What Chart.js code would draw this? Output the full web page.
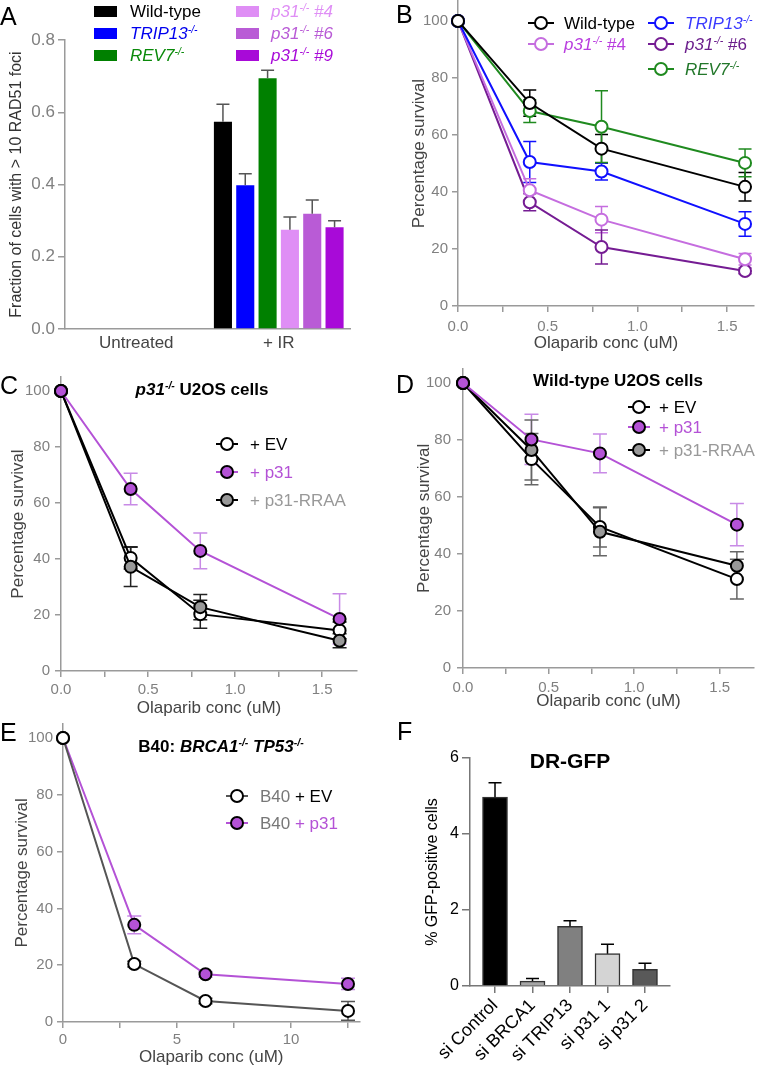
<!DOCTYPE html>
<html>
<head>
<meta charset="utf-8">
<script src="https://cdn.jsdelivr.net/npm/chart.js@4.4.1/dist/chart.umd.min.js"></script>
<style>
  body { margin: 0; width: 762px; height: 1069px; position: relative; overflow: hidden; background: #fff;
         font-family: 'Liberation Sans', Arial, sans-serif; }
  canvas { position: absolute; }
  .t { position: absolute; white-space: nowrap; line-height: 1; }
  .t sup { font-size: 0.62em; line-height: 0; vertical-align: 0.55em; }
</style>
</head>
<body>
<script>
// ---------- Panel A: RAD51 foci ----------
const aGroups = ['Untreated', '+ IR'];
const aWildType = [null, 0.574];
const aTrip13 = [null, 0.398];
const aRev7 = [null, 0.694];
const aP31n4 = [null, 0.275];
const aP31n6 = [null, 0.319];
const aP31n9 = [null, 0.282];
const aWildTypeErr = [0, 0.048];
const aTrip13Err = [0, 0.032];
const aRev7Err = [0, 0.022];
const aP31n4Err = [0, 0.035];
const aP31n6Err = [0, 0.038];
const aP31n9Err = [0, 0.018];
const aTicks = [0, 0.2, 0.4, 0.6, 0.8];

// ---------- Panel B: survival, knockouts ----------
const bConc = [0, 0.4, 0.8, 1.6];
const bWildType = [100, 71.2, 55.2, 41.8];
const bTrip13 = [100, 50.5, 47.2, 28.8];
const bP31n4 = [100, 40.6, 30.3, 16.4];
const bP31n6 = [100, 36.4, 20.7, 12.3];
const bRev7 = [100, 68.4, 62.9, 50.2];
const bWildTypeErr = [0, 4.6, 5, 5];
const bTrip13Err = [0, 7.2, 3, 4.3];
const bP31n4Err = [0, 4, 4.6, 2];
const bP31n6Err = [0, 3, 6, 1];
const bRev7Err = [0, 4, 12.6, 4.9];

// ---------- Panel C: p31-/- U2OS ----------
const cConc = [0, 0.4, 0.8, 1.6];
const cEV = [100, 40.4, 20.3, 14.5];
const cP31 = [100, 65, 42.9, 18.6];
const cRRAA = [100, 37.2, 22.8, 10.8];
const cEVErr = [0, 4, 5, 3];
const cP31Err = [0, 5.6, 6.4, 9];
const cRRAAErr = [0, 7, 4.5, 2.5];

// ---------- Panel D: wild-type U2OS ----------
const dConc = [0, 0.4, 0.8, 1.6];
const dEV = [100, 73.3, 49.5, 31.2];
const dP31 = [100, 80.2, 75.3, 50.3];
const dRRAA = [100, 76.5, 47.8, 35.9];
const dEVErr = [0, 9, 7, 7];
const dP31Err = [0, 8.8, 6.8, 7.4];
const dRRAAErr = [0, 10.5, 8.4, 4.9];

// ---------- Panel E: B40 ----------
const eConc = [0, 3.125, 6.25, 12.5];
const eEV = [100, 20.4, 7.4, 3.9];
const eP31 = [100, 34.2, 16.8, 13.4];
const eEVErr = [0, 1, 1, 3.3];
const eP31Err = [0, 3.1, 1, 2];

// ---------- Panel F: DR-GFP ----------
const fNames = ['si Control', 'si BRCA1', 'si TRIP13', 'si p31 1', 'si p31 2'];
const fMeans = [4.97, 0.13, 1.57, 0.85, 0.44];
const fErr = [0.38, 0.07, 0.15, 0.25, 0.16];
const fColors = ['#000000', '#a6a6a6', '#808080', '#d4d4d4', '#595959'];

const survTicks = [0, 20, 40, 60, 80, 100];
const olapTicks = [0, 0.25, 0.5, 0.75, 1, 1.25, 1.5];

const AXIS = '#9a9a9a';
const TICK = '#808080';
const TITLE = '#444444';
const PURPLE = '#b452d6';

Chart.defaults.font.family = "'Liberation Sans', Arial, sans-serif";
Chart.defaults.animation = false;
Chart.defaults.plugins.legend.display = false;
Chart.defaults.plugins.tooltip.enabled = false;

// error bars drawn from the dataset's errors array
function drawErrors(chart, opts) {
  const ctx = chart.ctx;
  chart.data.datasets.forEach((ds, i) => {
    if (!ds.errors) return;
    const meta = chart.getDatasetMeta(i);
    const yScale = chart.scales[meta.yAxisID];
    meta.data.forEach((el, j) => {
      const raw = ds.data[j];
      const v = raw !== null && typeof raw === 'object' ? raw.y : raw;
      const e = ds.errors[j];
      if (v == null || !e) return;
      const top = yScale.getPixelForValue(v + e);
      const bot = yScale.getPixelForValue(opts.upOnly ? v : v - e);
      ctx.save();
      ctx.strokeStyle = ds.errorColor || ds.borderColor;
      ctx.lineWidth = opts.width || 1.5;
      ctx.beginPath();
      ctx.moveTo(el.x, top); ctx.lineTo(el.x, bot);
      ctx.moveTo(el.x - opts.cap, top); ctx.lineTo(el.x + opts.cap, top);
      if (!opts.upOnly) { ctx.moveTo(el.x - opts.cap, bot); ctx.lineTo(el.x + opts.cap, bot); }
      ctx.stroke();
      ctx.restore();
    });
  });
}
Chart.register({
  id: 'errorBars',
  beforeDatasetsDraw(chart, args, opts) { if (opts.under) drawErrors(chart, opts); },
  afterDatasetsDraw(chart, args, opts) { if (!opts.under) drawErrors(chart, opts); }
});

function makeCanvas(left, top, w, h) {
  const c = document.createElement('canvas');
  c.width = w; c.height = h;
  c.style.left = left + 'px'; c.style.top = top + 'px';
  c.style.width = w + 'px'; c.style.height = h + 'px';
  document.body.appendChild(c);
  return c;
}

function addText(html, x, y, css, center) {
  const d = document.createElement('div');
  d.className = 't';
  d.innerHTML = html;
  d.style.left = x + 'px';
  d.style.top = y + 'px';
  Object.assign(d.style, css || {});
  d.style.transform = center ? 'translate(-50%,-50%)' : 'translateY(-50%)';
  document.body.appendChild(d);
}

function addMarker(cx, cy, w, line, fill, edge) {
  const d = document.createElement('div');
  d.style.position = 'absolute';
  d.style.left = (cx - w / 2) + 'px';
  d.style.top = (cy - 9) + 'px';
  d.innerHTML = `<svg width="${w}" height="18"><line x1="0" y1="9" x2="${w}" y2="9" stroke="${line}" stroke-width="2"/>` +
    `<circle cx="${w / 2}" cy="9" r="6" fill="${fill}" stroke="${edge}" stroke-width="2"/></svg>`;
  document.body.appendChild(d);
}

function addSwatch(x, cy, color) {
  const d = document.createElement('div');
  d.style.cssText = `position:absolute;left:${x}px;top:${cy - 5.5}px;width:23px;height:11px;background:${color}`;
  document.body.appendChild(d);
}

function yAxis(o) {
  return {
    min: o.min, max: o.max,
    afterFit: s => { s.width = o.width; },
    afterBuildTicks: s => { s.ticks = o.ticks.map(v => ({ value: v })); },
    border: { color: o.axis || AXIS, width: 1.5 },
    grid: { drawOnChartArea: false, tickLength: o.tickLength || 6, color: o.axis || AXIS, lineWidth: 1.5 },
    ticks: { color: o.tickColor || TICK, font: { size: o.fontSize || 15 }, padding: o.pad, autoSkip: false,
             callback: o.fmt || (v => String(v)) },
    title: { display: true, text: o.title, color: o.titleColor || TITLE, font: { size: o.titleSize || 17 },
             padding: { top: o.titlePad, bottom: 0 } }
  };
}

function xAxis(o) {
  return {
    type: 'linear', min: o.min, max: o.max,
    afterFit: s => { s.height = o.height; },
    afterBuildTicks: s => { s.ticks = o.ticks.map(v => ({ value: v })); },
    border: { color: AXIS, width: 1.5 },
    grid: { drawOnChartArea: false, tickLength: 6, color: AXIS, lineWidth: 1.5 },
    ticks: { color: TICK, font: { size: 15 }, padding: o.pad, autoSkip: false, maxRotation: 0, callback: o.fmt },
    title: { display: true, text: 'Olaparib conc (uM)', color: TITLE, font: { size: 17 }, padding: { top: 0, bottom: 0 } }
  };
}

function lineSet(x, y, err, line, fill, edge, errColor) {
  return {
    data: x.map((v, i) => ({ x: v, y: y[i] })),
    errors: err,
    borderColor: line, backgroundColor: fill, borderWidth: 2,
    pointBackgroundColor: fill, pointBorderColor: edge, pointBorderWidth: 2, pointRadius: 6,
    errorColor: errColor || line, tension: 0, clip: false
  };
}

const halfFmt = v => (Math.abs(v * 2 - Math.round(v * 2)) < 1e-6 ? v.toFixed(1) : '');

// ---------- A ----------
new Chart(makeCanvas(0, 0, 381, 359), {
  type: 'bar',
  data: {
    labels: aGroups,
    datasets: [
      { data: aWildType, errors: aWildTypeErr, backgroundColor: '#000000' },
      { data: aTrip13, errors: aTrip13Err, backgroundColor: '#0000ff' },
      { data: aRev7, errors: aRev7Err, backgroundColor: '#008000' },
      { data: aP31n4, errors: aP31n4Err, backgroundColor: '#df8ef5' },
      { data: aP31n6, errors: aP31n6Err, backgroundColor: '#b95bd6' },
      { data: aP31n9, errors: aP31n9Err, backgroundColor: '#a80ad8' }
    ].map(d => Object.assign({ errorColor: '#555', borderWidth: 0, categoryPercentage: 0.94, barPercentage: 0.81 }, d))
  },
  options: {
    responsive: false,
    layout: { padding: { left: 0, top: 40, right: 31, bottom: 0 } },
    plugins: { errorBars: { upOnly: true, cap: 6.5, width: 1.5 } },
    scales: {
      x: { grid: { display: false, drawTicks: false }, border: { color: AXIS, width: 1.5 },
           ticks: { color: '#444', font: { size: 17 }, padding: 4 }, afterFit: s => { s.height = 30; } },
      y: yAxis({ min: 0, max: 0.8, ticks: aTicks, width: 65, tickLength: 7, pad: 3, fontSize: 17,
                 fmt: v => v.toFixed(1), title: 'Fraction of cells with > 10 RAD51 foci',
                 titleSize: 16, titleColor: '#333', titlePad: 7 })
    }
  }
});

// ---------- B ----------
new Chart(makeCanvas(381, -12, 381, 366), {
  type: 'line',
  data: { datasets: [
    lineSet(bConc, bWildType, bWildTypeErr, '#000000', '#ffffff', '#000000'),
    lineSet(bConc, bTrip13, bTrip13Err, '#1010ff', '#ffffff', '#1010ff'),
    lineSet(bConc, bRev7, bRev7Err, '#1f8a1f', '#ffffff', '#1f8a1f'),
    lineSet(bConc, bP31n4, bP31n4Err, '#c56ddf', '#ffffff', '#c56ddf'),
    lineSet(bConc, bP31n6, bP31n6Err, '#751c93', '#ffffff', '#751c93')
  ] },
  options: {
    responsive: false,
    layout: { padding: { left: 0, top: 12, right: 7, bottom: 0 } },
    plugins: { errorBars: { under: true, cap: 6.5, width: 1.5 } },
    scales: {
      x: xAxis({ min: 0, max: 1.65, ticks: olapTicks, height: 48, pad: 6, fmt: halfFmt }),
      y: yAxis({ min: 0, max: 107, ticks: survTicks, width: 77, pad: 4, title: 'Percentage survival', titlePad: 28 })
    }
  }
});

// ---------- C ----------
new Chart(makeCanvas(0, 361, 381, 358), {
  type: 'line',
  data: { datasets: [
    lineSet(cConc, cP31, cP31Err, PURPLE, PURPLE, '#000000', '#c88ae6'),
    lineSet(cConc, cRRAA, cRRAAErr, '#000000', '#999999', '#000000', '#222'),
    lineSet(cConc, cEV, cEVErr, '#000000', '#ffffff', '#000000', '#222')
  ] },
  options: {
    responsive: false,
    layout: { padding: { left: 0, top: 16, right: 24, bottom: 0 } },
    plugins: { errorBars: { under: true, cap: 7, width: 1.5 } },
    scales: {
      x: xAxis({ min: 0, max: 1.7, ticks: olapTicks, height: 48, pad: 4, fmt: halfFmt }),
      y: yAxis({ min: 0, max: 105, ticks: survTicks, width: 61, pad: 5, title: 'Percentage survival', titlePad: 8 })
    }
  }
});

// ---------- D ----------
new Chart(makeCanvas(381, 353, 381, 359), {
  type: 'line',
  data: { datasets: [
    lineSet(dConc, dP31, dP31Err, PURPLE, PURPLE, '#000000', '#c88ae6'),
    lineSet(dConc, dRRAA, dRRAAErr, '#000000', '#999999', '#000000', '#666'),
    lineSet(dConc, dEV, dEVErr, '#000000', '#ffffff', '#000000', '#666')
  ] },
  options: {
    responsive: false,
    layout: { padding: { left: 0, top: 15.75, right: 1.5, bottom: 0 } },
    plugins: { errorBars: { under: true, cap: 7, width: 1.5 } },
    scales: {
      x: xAxis({ min: 0, max: 1.7, ticks: olapTicks, height: 44, pad: 5, fmt: halfFmt }),
      y: yAxis({ min: 0, max: 105, ticks: survTicks, width: 82, pad: 6, title: 'Percentage survival', titlePad: 33 })
    }
  }
});

// ---------- E ----------
new Chart(makeCanvas(0, 708, 381, 360), {
  type: 'line',
  data: { datasets: [
    lineSet(eConc, eEV, eEVErr, '#555555', '#ffffff', '#000000', '#555'),
    lineSet(eConc, eP31, eP31Err, PURPLE, PURPLE, '#000000', '#c88ae6')
  ] },
  options: {
    responsive: false,
    layout: { padding: { left: 0, top: 15.8, right: 21.6, bottom: 0 } },
    plugins: { errorBars: { under: true, cap: 7, width: 1.5 } },
    scales: {
      x: xAxis({ min: 0, max: 13, ticks: [0, 2.5, 5, 7.5, 10, 12.5], height: 46, pad: 3,
                 fmt: v => (v % 5 === 0 ? String(v) : '') }),
      y: yAxis({ min: 0, max: 105, ticks: survTicks, width: 63, pad: 4, title: 'Percentage survival', titlePad: 12 })
    }
  }
});

// ---------- F ----------
new Chart(makeCanvas(381, 742, 381, 327), {
  type: 'bar',
  data: { datasets: [{
    data: fNames.map((n, i) => ({ x: i, y: fMeans[i] })),
    errors: fErr,
    backgroundColor: fColors, borderColor: '#333333', borderWidth: 1.5,
    errorColor: '#000000', barThickness: 25
  }] },
  options: {
    responsive: false,
    layout: { padding: { left: 0, top: 16, right: 92, bottom: 0 } },
    plugins: { errorBars: { upOnly: true, cap: 6.5, width: 1.5 } },
    scales: {
      x: {
        type: 'linear', min: -0.667, max: 4.667, offset: false,
        afterFit: s => { s.height = 83; },
        afterBuildTicks: s => { s.ticks = fNames.map((n, i) => ({ value: i })); },
        border: { color: '#777', width: 1.5 },
        grid: { drawOnChartArea: false, offset: false, tickLength: 7, color: '#777', lineWidth: 1.5 },
        ticks: { color: '#000', font: { size: 18 }, padding: 2, autoSkip: false, minRotation: 45, maxRotation: 45,
                 callback: v => fNames[v] }
      },
      y: yAxis({ min: 0, max: 6, ticks: [0, 2, 4, 6], width: 89, tickLength: 8, pad: 3, axis: '#777',
                 tickColor: '#000', fontSize: 16, title: '% GFP-positive cells', titleColor: '#000',
                 titleSize: 16, titlePad: 42 })
    }
  }
});

// ---------- panel letters ----------
const LETTER = { fontSize: '25px', color: '#000' };
addText('A', 0, 16, LETTER);
addText('B', 396, 14, LETTER);
addText('C', 0, 385, LETTER);
addText('D', 396, 384, LETTER);
addText('E', 0, 732, LETTER);
addText('F', 397, 731, LETTER);

// ---------- A legend ----------
const LG = { fontSize: '17px' };
addSwatch(94, 11, '#000000'); addText('Wild-type', 130, 11, Object.assign({ color: '#000' }, LG));
addSwatch(94, 33, '#0000ff'); addText('<i>TRIP13<sup>-/-</sup></i>', 130, 33, Object.assign({ color: '#0000ee' }, LG));
addSwatch(94, 55, '#008000'); addText('<i>REV7<sup>-/-</sup></i>', 130, 55, Object.assign({ color: '#0a8a0a' }, LG));
addSwatch(236, 11, '#df8ef5'); addText('<i>p31<sup>-/-</sup> #4</i>', 271, 11, Object.assign({ color: '#df8ef5' }, LG));
addSwatch(236, 33, '#b95bd6'); addText('<i>p31<sup>-/-</sup> #6</i>', 271, 33, Object.assign({ color: '#b95bd6' }, LG));
addSwatch(236, 55, '#a80ad8'); addText('<i>p31<sup>-/-</sup> #9</i>', 271, 55, Object.assign({ color: '#a80ad8' }, LG));

// ---------- B legend ----------
addMarker(541, 23, 26, '#000000', '#fff', '#000000');
addText('Wild-type', 564, 23, Object.assign({ color: '#000' }, LG));
addMarker(661, 23, 26, '#1010ff', '#fff', '#1010ff');
addText('<i>TRIP13<sup>-/-</sup></i>', 685, 23, Object.assign({ color: '#3a3aff' }, LG));
addMarker(541, 44, 26, '#c56ddf', '#fff', '#c56ddf');
addText('<i>p31<sup>-/-</sup></i> #4', 564, 44, Object.assign({ color: '#b93ddf' }, LG));
addMarker(661, 44, 26, '#751c93', '#fff', '#751c93');
addText('<i>p31<sup>-/-</sup></i> #6', 685, 44, Object.assign({ color: '#6b1e8c' }, LG));
addMarker(661, 69, 26, '#1f8a1f', '#fff', '#1f8a1f');
addText('<i>REV7<sup>-/-</sup></i>', 685, 69, Object.assign({ color: '#22772a' }, LG));

// ---------- C ----------
const TT = { fontSize: '17px', fontWeight: 'bold', color: '#000' };
addText('<i>p31<sup>-/-</sup></i> U2OS cells', 202, 389, TT, true);
addMarker(227, 444, 22, '#000000', '#ffffff', '#000000');
addText('+ EV', 250, 444, Object.assign({ color: '#000' }, LG));
addMarker(227, 472, 22, PURPLE, PURPLE, '#000000');
addText('+ p31', 250, 472, Object.assign({ color: PURPLE }, LG));
addMarker(227, 500, 22, '#000000', '#999999', '#000000');
addText('+ p31-RRAA', 250, 500, Object.assign({ color: '#999' }, LG));

// ---------- D ----------
addText('Wild-type U2OS cells', 618, 380, TT, true);
addMarker(639, 407, 22, '#000000', '#ffffff', '#000000');
addText('+ EV', 659, 407, Object.assign({ color: '#000' }, LG));
addMarker(639, 427, 22, PURPLE, PURPLE, '#000000');
addText('+ p31', 659, 427, Object.assign({ color: PURPLE }, LG));
addMarker(639, 450, 22, '#000000', '#999999', '#000000');
addText('+ p31-RRAA', 659, 450, Object.assign({ color: '#999' }, LG));

// ---------- E ----------
addText('B40: <i>BRCA1<sup>-/-</sup> TP53<sup>-/-</sup></i>', 221, 746, TT, true);
addMarker(237, 796, 22, '#555555', '#ffffff', '#000000');
addText('<span style="color:#777">B40</span> + EV', 260, 796, Object.assign({ color: '#000' }, LG));
addMarker(237, 823, 22, PURPLE, PURPLE, '#000000');
addText('<span style="color:#777">B40</span> + p31', 260, 823, Object.assign({ color: PURPLE }, LG));

// ---------- F ----------
addText('DR-GFP', 570, 760, { fontSize: '21px', fontWeight: 'bold', color: '#000' }, true);
</script>
</body>
</html>
